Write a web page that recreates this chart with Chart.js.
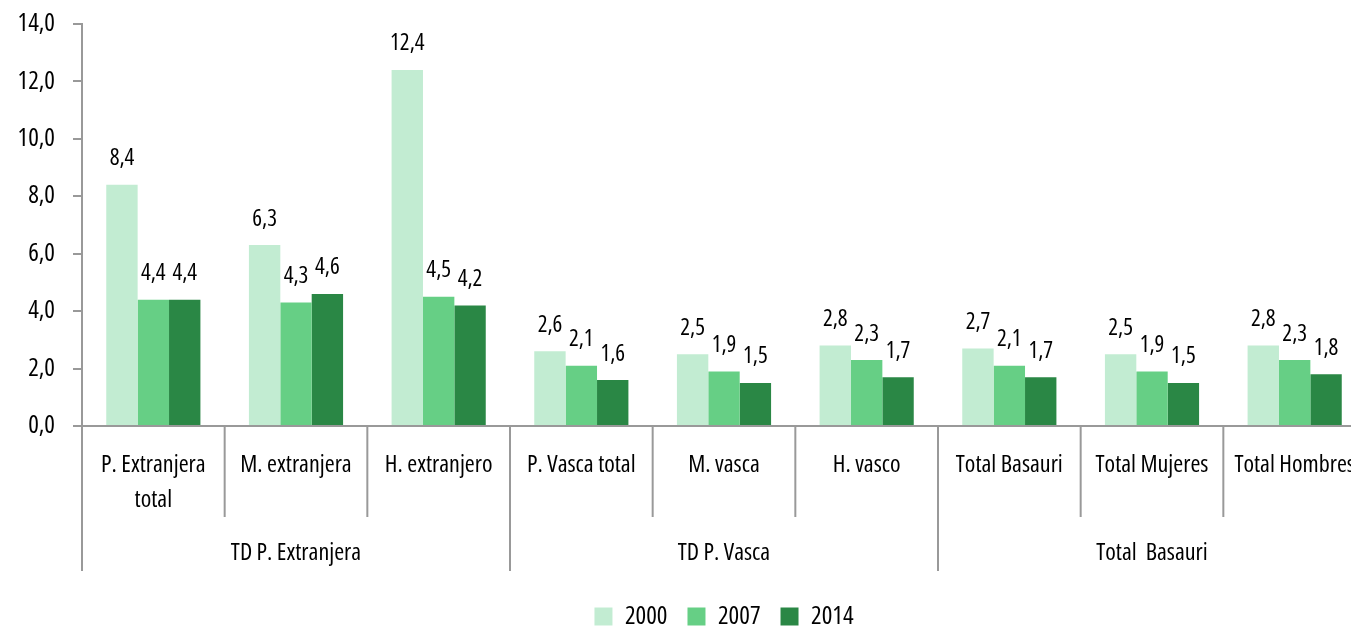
<!DOCTYPE html>
<html>
<head>
<meta charset="utf-8">
<script src="https://cdn.jsdelivr.net/npm/chart.js@4/dist/chart.umd.min.js"></script>
<style>
  html, body { margin: 0; padding: 0; background: #fff; overflow: hidden; }
  #wrap { width: 1366px; height: 639px; }
</style>
</head>
<body>
<div id="wrap"><canvas id="bars"></canvas></div>
<script>
var categories = [['P. Extranjera', 'total'], 'M. extranjera', 'H. extranjero',
                  'P. Vasca total', 'M. vasca', 'H. vasco',
                  'Total Basauri', 'Total Mujeres', 'Total Hombres'];
var groups = ['TD P. Extranjera', 'TD P. Vasca', 'Total  Basauri'];
var years = ['2000', '2007', '2014'];
var td2000 = [8.4, 6.3, 12.4, 2.6, 2.5, 2.8, 2.7, 2.5, 2.8];
var td2007 = [4.4, 4.3, 4.5, 2.1, 1.9, 2.3, 2.1, 1.9, 2.3];
var td2014 = [4.4, 4.6, 4.2, 1.6, 1.5, 1.7, 1.7, 1.5, 1.8];
var yTicks = [0, 2, 4, 6, 8, 10, 12, 14];

var GRAY = '#999999';

// the original uses Arial Narrow; take the narrowest face we have
// and size it so that the text widths come out about the same
var candidates = [
  ['', "'Liberation Sans Narrow'"],
  ['', "'Arial Narrow'"],
  ['condensed', "'Noto Sans'"],
  ['condensed', "'Open Sans'"],
  ['condensed', "Roboto"],
  ['condensed', "'DejaVu Sans'"]
];
var fontFamily = "'DejaVu Sans Condensed', sans-serif", fontStretch = '', fontScale = 1;
(function() {
  var c = document.createElement('canvas').getContext('2d');
  var best = 1e9;
  candidates.forEach(function(o) {
    c.font = '10px serif';
    c.font = (o[0] ? o[0] + ' ' : '') + '24px ' + o[1] + ", 'DejaVu Sans'";
    if (c.font.indexOf('24px') < 0) return;
    var w = c.measureText('M. extranjera').width;
    if (w < best) { best = w; fontFamily = o[1] + ", 'DejaVu Sans', sans-serif"; fontStretch = o[0]; }
  });
  fontScale = Math.min(1, 116 / best);
})();

function fnt(size, extra) {
  var f = { family: fontFamily, size: Math.round(size * fontScale * 10) / 10 };
  if (fontStretch) f.weight = fontStretch;
  for (var k in extra) f[k] = extra[k];
  return f;
}
function fontStr(size) {
  return (fontStretch ? fontStretch + ' ' : '') + (size * fontScale) + 'px ' + fontFamily;
}
function comma(v) { return v.toFixed(1).replace('.', ','); }

// value labels above the bars
var barLabels = {
  id: 'barLabels',
  afterDatasetsDraw: function(chart) {
    var ctx = chart.ctx;
    ctx.save();
    ctx.font = fontStr(23);
    ctx.fillStyle = '#000';
    ctx.textAlign = 'center';
    ctx.textBaseline = 'middle';
    chart.data.datasets.forEach(function(ds, i) {
      chart.getDatasetMeta(i).data.forEach(function(bar, j) {
        ctx.fillText(comma(ds.data[j]), bar.x, bar.y - 26);
      });
    });
    ctx.restore();
  }
};

// separators and group titles under the category axis
var groupAxis = {
  id: 'groupAxis',
  afterDraw: function(chart) {
    var x = chart.scales.x, ctx = chart.ctx;
    var step = (x.right - x.left) / categories.length;
    var top = x.top;
    ctx.save();
    ctx.strokeStyle = GRAY;
    ctx.lineWidth = 2;
    for (var i = 0; i <= categories.length; i++) {
      var px = x.getPixelForValue(i) - step / 2;
      ctx.beginPath();
      ctx.moveTo(px, top);
      ctx.lineTo(px, i % 3 === 0 ? top + 145 : top + 91);
      ctx.stroke();
    }
    ctx.font = fontStr(24);
    ctx.fillStyle = '#000';
    ctx.textAlign = 'center';
    ctx.textBaseline = 'middle';
    groups.forEach(function(g, k) {
      var cx = x.getPixelForValue(k * 3 + 1);
      ctx.fillText(g, cx, top + 127);
    });
    ctx.restore();
  }
};

new Chart(document.getElementById('bars').getContext('2d'), {
  type: 'bar',
  data: {
    labels: categories,
    datasets: [
      { label: years[0], data: td2000, backgroundColor: '#c2ecd2' },
      { label: years[1], data: td2007, backgroundColor: '#66cf85' },
      { label: years[2], data: td2014, backgroundColor: '#2a8745' }
    ]
  },
  options: {
    responsive: true,
    maintainAspectRatio: false,
    animation: false,
    layout: { padding: { top: 24, left: 0, right: 0, bottom: 0 } },
    datasets: { bar: { categoryPercentage: 0.66, barPercentage: 1.0 } },
    scales: {
      x: {
        grid: { display: false, drawTicks: false },
        border: { color: GRAY, width: 2 },
        ticks: {
          color: '#000',
          font: fnt(24, { lineHeight: 1.45 }),
          padding: 22,
          maxRotation: 0,
          autoSkip: false
        },
        afterFit: function(scale) {
          scale.height = 158;
          scale.paddingLeft = 0;
          scale.paddingRight = 0;
        }
      },
      y: {
        min: 0,
        max: 14,
        afterBuildTicks: function(scale) {
          scale.ticks = yTicks.map(function(v) { return { value: v }; });
        },
        grid: { drawOnChartArea: false, color: GRAY, lineWidth: 2, tickLength: 9 },
        border: { color: GRAY, width: 2 },
        ticks: {
          color: '#000',
          font: fnt(25),
          padding: 18,
          callback: function(v) { return comma(v); }
        },
        afterFit: function(scale) {
          scale.width = 82;
          scale.paddingTop = 0;
          scale.paddingBottom = 0;
        }
      }
    },
    plugins: {
      legend: {
        position: 'bottom',
        fullSize: false,
        labels: {
          color: '#000',
          font: fnt(25),
          boxWidth: 18,
          boxHeight: 18,
          padding: 20
        }
      },
      tooltip: { enabled: false }
    }
  },
  plugins: [barLabels, groupAxis]
});
</script>
</body>
</html>
